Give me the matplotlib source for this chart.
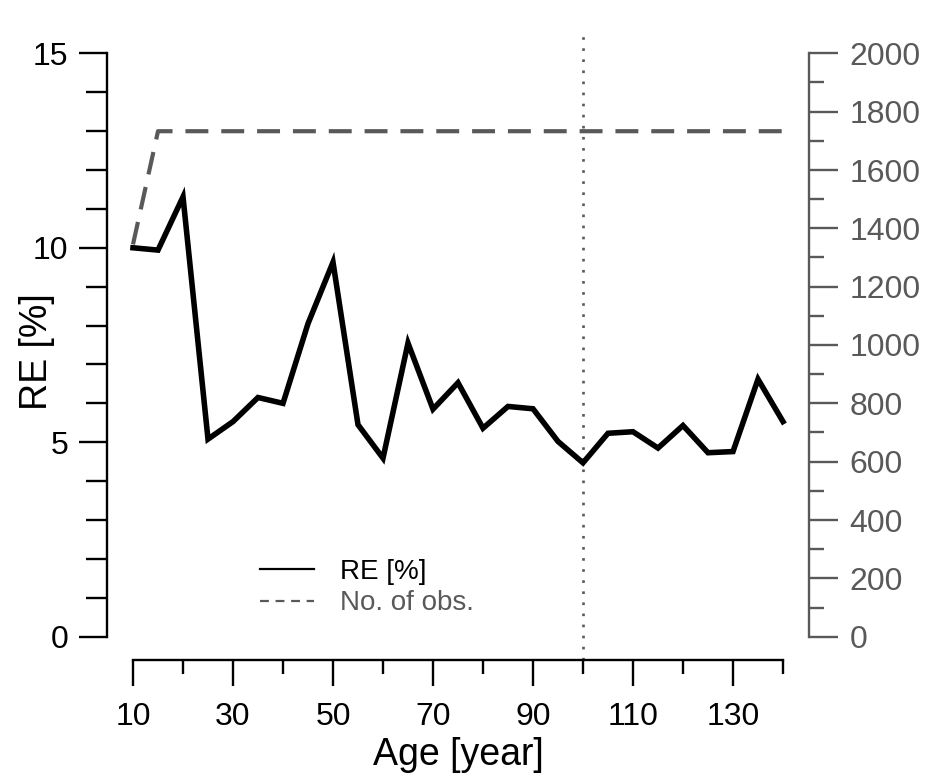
import matplotlib
matplotlib.use("Agg")
import matplotlib.pyplot as plt
from matplotlib.lines import Line2D
from matplotlib.ticker import FixedLocator

plt.rcParams['font.family'] = ['Liberation Sans', 'DejaVu Sans']

# ---- data ----
age = [10, 15, 20, 25, 30, 35, 40, 45, 50, 55, 60, 65, 70, 75,
       80, 85, 90, 95, 100, 105, 110, 115, 120, 125, 130, 135, 140]
re_pct = [10.0, 9.94, 11.31, 5.08, 5.53, 6.15, 6.0, 8.05, 9.63, 5.45, 4.59, 7.55, 5.85, 6.53,
          5.36, 5.92, 5.86, 5.02, 4.47, 5.23, 5.27, 4.85, 5.43, 4.73, 4.76, 6.62, 5.53]
n_obs = [1345, 1733, 1733, 1733, 1733, 1733, 1733, 1733, 1733, 1733, 1733, 1733, 1733, 1733,
         1733, 1733, 1733, 1733, 1733, 1733, 1733, 1733, 1733, 1733, 1733, 1733, 1733]
vline_age = 100
x_major = [10, 30, 50, 70, 90, 110, 130]
x_minor = [20, 40, 60, 80, 100, 120, 140]
y_major = [0, 5, 10, 15]
y_minor = [1, 2, 3, 4, 6, 7, 8, 9, 11, 12, 13, 14]
y2_major = [0, 200, 400, 600, 800, 1000, 1200, 1400, 1600, 1800, 2000]
y2_minor = [100, 300, 500, 700, 900, 1100, 1300, 1500, 1700, 1900]

GRAY = '#595959'
W, H = 925, 776
fig = plt.figure(figsize=(W / 100, H / 100), dpi=100)
left, right, top, bottom = 107, 809, 30, 660
ax = fig.add_axes([left / W, 1 - bottom / H, (right - left) / W, (bottom - top) / H])

ax.plot(age, re_pct, color='black', lw=4.0, solid_joinstyle='miter', zorder=3)
ax.axvline(vline_age, color=GRAY, lw=1.9, linestyle=(0, (1, 3.2)), zorder=2)

ax.set_xlim(4.8, 145.2)
ax.set_ylim(-0.6, 15.6)

for s in ['top', 'right']:
    ax.spines[s].set_visible(False)
ax.spines['left'].set_bounds(0, 15)
ax.spines['bottom'].set_bounds(10, 140)
ax.spines['left'].set_linewidth(1.7)
ax.spines['bottom'].set_linewidth(1.7)

ax.xaxis.set_major_locator(FixedLocator(x_major))
ax.xaxis.set_minor_locator(FixedLocator(x_minor))
ax.yaxis.set_major_locator(FixedLocator(y_major))
ax.yaxis.set_minor_locator(FixedLocator(y_minor))
ax.set_xticklabels([str(v) for v in x_major])
ax.set_yticklabels([str(v) for v in y_major])
ax.tick_params(axis='x', which='major', length=19, width=1.7, pad=11, labelsize=23)
ax.tick_params(axis='x', which='minor', length=10, width=1.7)
ax.tick_params(axis='y', which='major', length=20, width=1.7, pad=8, labelsize=23)
ax.tick_params(axis='y', which='minor', length=15, width=1.7)

ax2 = ax.twinx()
ax2.plot(age, n_obs, color=GRAY, lw=3.0, linestyle=(0, (5.5, 3.1)), zorder=2)
ax2.set_ylim(-0.6 * 2000 / 15, 15.6 * 2000 / 15)
for s in ['top', 'left', 'bottom']:
    ax2.spines[s].set_visible(False)
ax2.spines['right'].set_bounds(0, 2000)
ax2.spines['right'].set_color(GRAY)
ax2.spines['right'].set_linewidth(1.7)
ax2.yaxis.set_major_locator(FixedLocator(y2_major))
ax2.yaxis.set_minor_locator(FixedLocator(y2_minor))
ax2.set_yticklabels([str(v) for v in y2_major])
ax2.tick_params(axis='y', which='major', length=21, width=1.7, pad=8, labelsize=23,
                color=GRAY, labelcolor=GRAY)
ax2.tick_params(axis='y', which='minor', length=11, width=1.7, color=GRAY)

fig.text(458 / W, 1 - 755 / H, 'Age [year]', ha='center', va='center', fontsize=27)
fig.text(37 / W, 1 - 352 / H, 'RE [%]', ha='center', va='center', rotation=90, fontsize=27)

handles = [Line2D([], [], color='black', lw=1.6),
           Line2D([], [], color=GRAY, lw=1.6, linestyle=(0, (4, 3)))]
leg = fig.legend(handles, ['RE [%]', 'No. of obs.'], loc='upper left',
                 bbox_to_anchor=(246 / W, 1 - 545 / H), frameon=False, fontsize=20,
                 handlelength=1.95, handletextpad=0.95, labelspacing=0.2, borderpad=0)
leg.get_texts()[1].set_color(GRAY)

fig.savefig('out.png', dpi=100)
